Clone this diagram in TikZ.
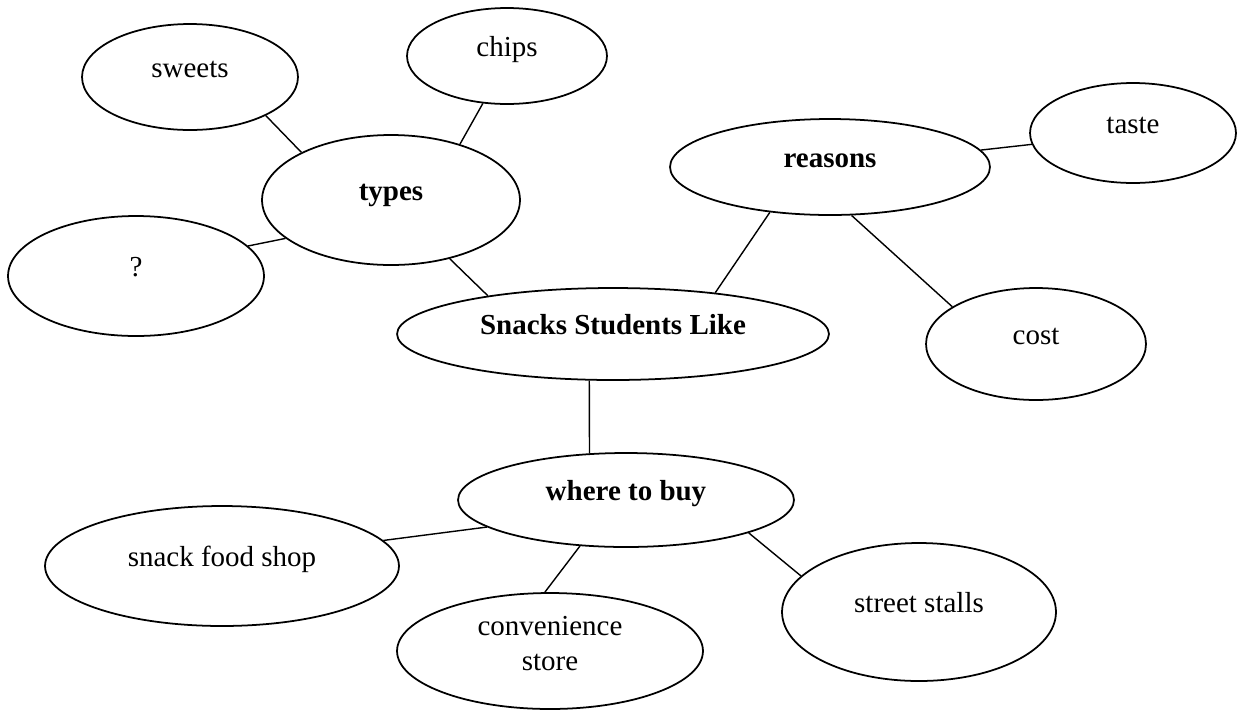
\documentclass[tikz,border=0pt]{standalone}
\usepackage{fontspec}
\setmainfont{Liberation Serif}
\usetikzlibrary{shapes.geometric}

\begin{document}
\begin{tikzpicture}[x=0.02cm,y=-0.02cm,
  bub/.style={draw, ellipse, line width=1pt, inner sep=0pt,
    text height=0pt, text depth=0pt,
    font=\fontsize{16.5}{19.8}\selectfont},
  hub/.style={bub, font=\fontsize{16.5}{19.8}\selectfont\bfseries},
  dims/.style 2 args={minimum width=#1cm, minimum height=#2cm},
  link/.style={line width=0.8pt}]
\useasboundingbox (0,0) rectangle (1237,711);
% centre
\node[hub, dims={8.64}{1.84}] (snacks) at (613,334) {Snacks Students Like};
% types
\node[hub, dims={5.16}{2.6}] (types) at (391,200) {types};
\node[bub, dims={4.32}{2.12}] (sweets) at (190,77) {sweets};
\node[bub, dims={4.0}{1.92}] (chips) at (507,56) {chips};
\node[bub, dims={5.12}{2.4}] (what) at (136,276) {?};
% reasons
\node[hub, dims={6.4}{1.92}] (reasons) at (830,167) {reasons};
\node[bub, dims={4.12}{2.0}] (taste) at (1133,133) {taste};
\node[bub, dims={4.4}{2.24}] (cost) at (1036,344) {cost};
% where to buy
\node[hub, dims={6.72}{1.88}] (where) at (626,500) {where to buy};
\node[bub, dims={7.08}{2.4}] (shop) at (222,566) {snack food shop};
\node[bub, dims={6.12}{2.32}] (store) at (550,651)
  {\raisebox{-11pt}[0pt][0pt]{\begin{tabular}[b]{@{}c@{}}convenience\\store\end{tabular}}};
\node[bub, dims={5.48}{2.76}] (stalls) at (919,612) {street stalls};
% links
\draw[link] (types.152) -- (sweets.-27);
\draw[link] (types.39) -- (chips.243);
\draw[link] (types.200) -- (what.15);
\draw[link] (types.315) -- (snacks.163);
\draw[link] (reasons.217) -- (snacks.22);
\draw[link] (reasons) -- (taste);
\draw[link] (reasons.294) -- (cost.156);
\draw[link] (snacks.243) -- (where.128);
\draw[link] (where.191) -- (shop.9);
\draw[link] (where.225) -- (store.95);
\draw[link] (where.345) -- (stalls.163);
\end{tikzpicture}
\end{document}
